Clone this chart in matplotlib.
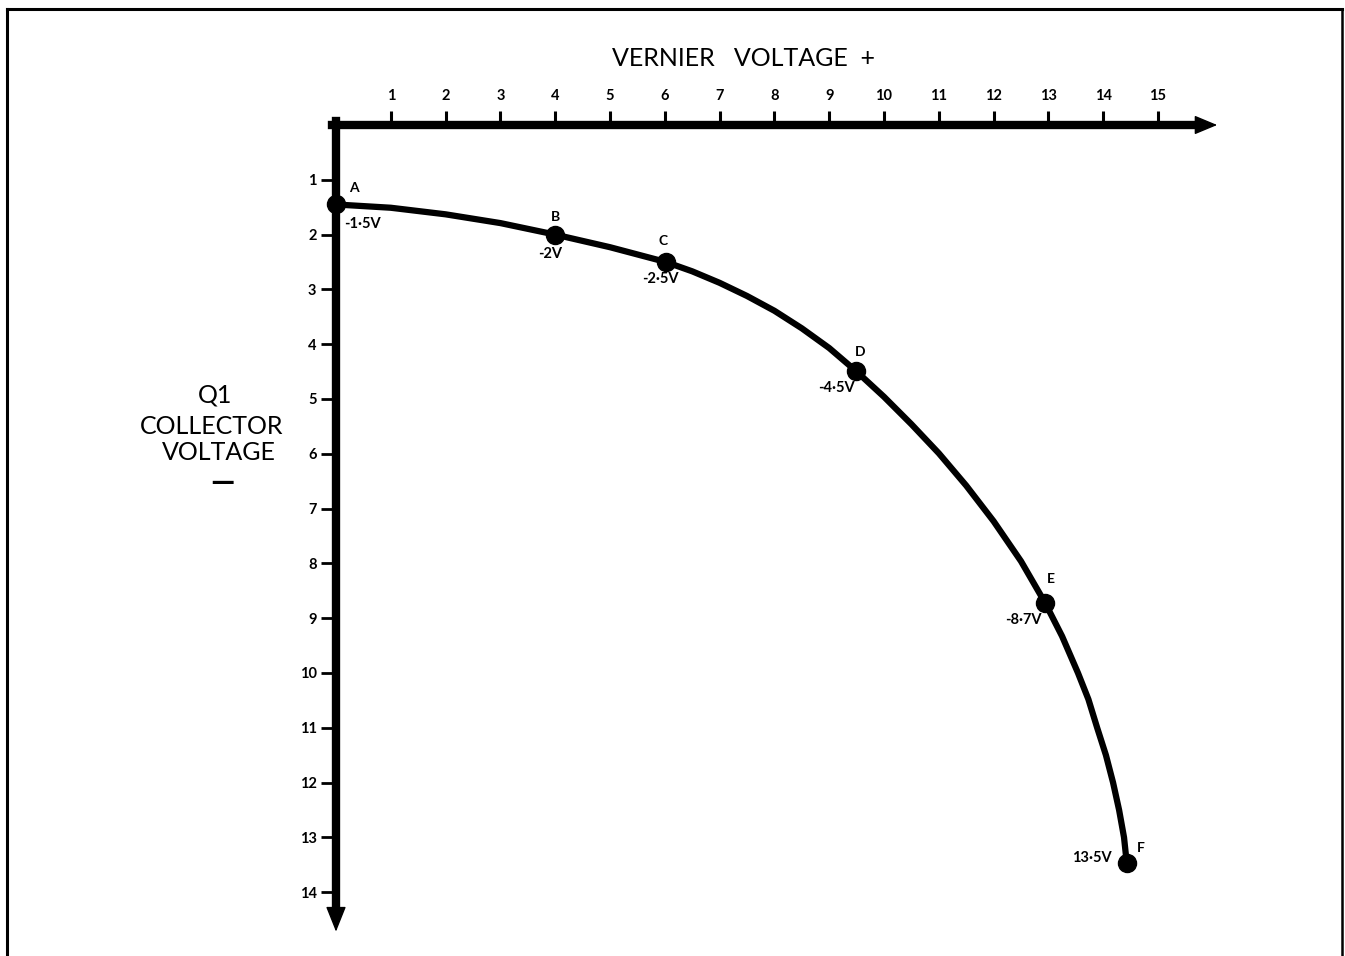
import matplotlib
matplotlib.use("Agg")
import matplotlib.pyplot as plt
from matplotlib.lines import Line2D

# measured points on the curve (A..F)
point_names = ['A', 'B', 'C', 'D', 'E', 'F']
point_x = [0.0, 4.0, 6.02, 9.49, 12.94, 14.43]
point_y = [1.45, 2.0, 2.5, 4.49, 8.72, 13.47]
point_values = ['-1·5V', '-2V', '-2·5V', '-4·5V', '-8·7V', '13·5V']

# curve
curve_x = [0.0, 1.0, 2.0, 3.0, 4.0, 5.0, 6.02, 6.5, 7.0, 7.5, 8.0, 8.5, 9.0,
           9.49, 10.0, 10.5, 11.0, 11.5, 12.0, 12.5, 12.94, 13.25, 13.54,
           13.73, 13.89, 14.05, 14.18, 14.29, 14.38, 14.43]
curve_y = [1.45, 1.51, 1.63, 1.79, 2.0, 2.23, 2.5, 2.67, 2.88, 3.12, 3.39,
           3.71, 4.07, 4.49, 4.96, 5.46, 5.99, 6.58, 7.23, 7.96, 8.72, 9.33,
           10.0, 10.48, 11.0, 11.5, 12.0, 12.5, 13.0, 13.47]

x_ticks = list(range(1, 16))
y_ticks = list(range(1, 15))

plt.rcParams['font.family'] = ['Lato', 'DejaVu Sans']

fig = plt.figure(figsize=(13.45, 9.56), dpi=100)
ax = fig.add_axes([0, 0, 1, 1])
ax.set_facecolor('white')

# one data unit is 54.8 px, origin at pixel (336, 125)
ax.set_xlim(-336 / 54.8, (1345 - 336) / 54.8)
ax.set_ylim((956 - 125) / 54.8, -125 / 54.8)

for side in ['right', 'bottom']:
    ax.spines[side].set_visible(False)
ax.spines['top'].set_position(('data', 0))
ax.spines['left'].set_position(('data', 0))
ax.spines['top'].set_linewidth(6)
ax.spines['left'].set_linewidth(6)
ax.spines['top'].set_bounds(-0.07, 15.75)
ax.spines['left'].set_bounds(-0.07, 14.35)
ax.spines['top'].set_capstyle('projecting')

ax.xaxis.tick_top()
ax.set_xticks(x_ticks)
ax.set_yticks(y_ticks)
ax.tick_params(axis='x', direction='out', length=10, width=2.2, pad=6,
               labelsize=10.5)
ax.tick_params(axis='y', direction='out', length=11, width=2, pad=3,
               labelsize=10.5)
for lab in ax.get_xticklabels() + ax.get_yticklabels():
    lab.set_fontweight('bold')

# arrowheads
ax.annotate('', xy=(16.08, 0), xytext=(15.6, 0),
            arrowprops=dict(arrowstyle='-|>,head_length=0.36,head_width=0.15',
                            mutation_scale=40, lw=1, color='black',
                            shrinkA=0, shrinkB=0))
ax.annotate('', xy=(0, 14.72), xytext=(0, 14.2),
            arrowprops=dict(arrowstyle='-|>,head_length=0.4,head_width=0.16',
                            mutation_scale=40, lw=1, color='black',
                            shrinkA=0, shrinkB=0))

# curve and points
ax.plot(curve_x, curve_y, color='black', lw=4.5, solid_capstyle='round',
        solid_joinstyle='round', zorder=3)
ax.plot(point_x, point_y, 'o', color='black', ms=13, zorder=4)

name_off = [(13, 12), (0, 13), (-2, 15), (3, 14), (4, 17), (10, 11)]
value_off = [(19, -14), (-4, -14), (-4, -12), (-14, -12), (-16, -12), (-25, 4)]
for i, name in enumerate(point_names):
    ax.annotate(name, (point_x[i], point_y[i]), xytext=name_off[i],
                textcoords='offset points', ha='center', va='center',
                fontsize=10, fontweight='bold')
    ax.annotate(point_values[i], (point_x[i], point_y[i]), xytext=value_off[i],
                textcoords='offset points', ha='center', va='center',
                fontsize=10.5, fontweight='bold')

# axis titles
ax.text(7.43, -1.22, 'VERNIER   VOLTAGE  +', ha='center', va='center',
        fontsize=18)
ylab_lines = ['Q1', 'COLLECTOR', 'VOLTAGE']
ylab_px = [(215, 395), (212, 427), (219, 453)]
for txt, (px, py) in zip(ylab_lines, ylab_px):
    ax.text((px - 336) / 54.8, (py - 125) / 54.8, txt, ha='center',
            va='center', fontsize=18)
ax.text((222 - 336) / 54.8, (483 - 125) / 54.8, '—', ha='center',
        va='center', fontsize=22, fontweight='black')

# outer frame
fr = dict(transform=fig.transFigure, color='black')
fig.add_artist(Line2D([7 / 1345, 7 / 1345], [0, 1 - 9 / 956], lw=2.2, **fr))
fig.add_artist(Line2D([7 / 1345, 1342 / 1345], [1 - 9 / 956, 1 - 9 / 956], lw=2.2, **fr))
fig.add_artist(Line2D([1342 / 1345, 1342 / 1345], [0, 1 - 9 / 956], lw=1.8, **fr))

fig.savefig('out.png', dpi=100, facecolor='white')
